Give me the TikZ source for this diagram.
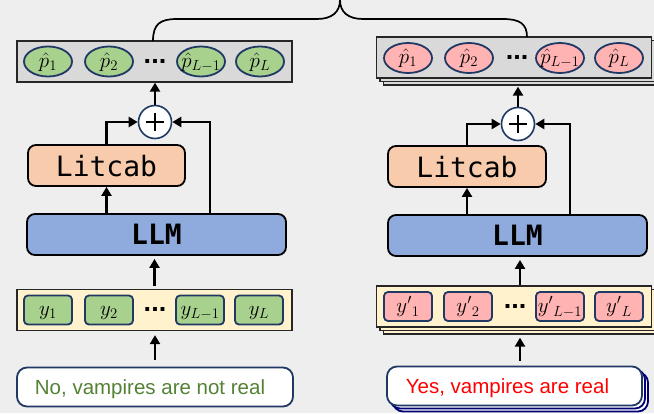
\RequirePackage{fix-cm}
\documentclass[tikz,border=0pt]{standalone}
\usepackage{fontspec}
\setmainfont{Liberation Sans}
\newfontfamily\codefont{DejaVu Sans Mono}
\newfontfamily\truefont[Color=548235]{Liberation Sans}
\newfontfamily\falsefont[Color=FF0000]{Liberation Sans}
\usetikzlibrary{arrows.meta,shapes.geometric,shadows}

\definecolor{canvas}{HTML}{EEEEEE}
\definecolor{probgray}{HTML}{D9D9D9}
\definecolor{tokcream}{HTML}{FFF2CC}
\definecolor{tokgreen}{HTML}{A9D18E}
\definecolor{tokpink}{HTML}{FFB3B3}
\definecolor{navy}{HTML}{203864}
\definecolor{calpeach}{HTML}{F8CBAD}
\definecolor{llmblue}{HTML}{8FAADC}

% label of fixed footprint, centred on the node
\newcommand{\cellmath}[1]{\makebox[0pt]{\raisebox{-5.5pt}[0pt][0pt]{$#1$}}}

\tikzset{
  strip/.style={draw=black!85, line width=1.3pt, minimum width=275pt, minimum height=41pt, inner sep=0pt},
  probstrip/.style={strip, fill=probgray},
  tokstrip/.style={strip, fill=tokcream},
  stack3/.style={
    copy shadow={shadow xshift=7pt, shadow yshift=-7pt, fill=#1, draw=black!85, line width=1.3pt},
    copy shadow={shadow xshift=3.5pt, shadow yshift=-3.5pt, fill=#1, draw=black!85, line width=1.3pt}},
  prob/.style={ellipse, draw=navy, line width=1.8pt, minimum width=48pt, minimum height=30pt, inner sep=0pt, font=\fontsize{21}{24}\selectfont},
  tok/.style={rectangle, rounded corners=4pt, draw=navy, line width=1.8pt, minimum width=48pt, minimum height=29pt, inner sep=0pt, font=\fontsize{21}{24}\selectfont},
  dotsnode/.style={inner sep=0pt, anchor=base, font=\fontsize{27}{27}\selectfont\bfseries},
  block/.style={draw=black, line width=1.8pt, rounded corners=8pt, minimum height=41pt, inner sep=0pt, text depth=0pt, font=\fontsize{28}{30}\selectfont\codefont},
  sumnode/.style={circle, draw=navy, line width=1.6pt, fill=white, minimum size=33pt, inner sep=0pt},
  answerframe/.style={draw=navy, line width=1.8pt, fill=white, rounded corners=10pt},
  answer/.style={answerframe, minimum height=39pt, inner sep=0pt, text depth=0pt},
  flow/.style={line width=2.6pt, -{Triangle[length=9pt,width=10pt]}},
  plusbar/.style={line width=2.2pt},
}

\begin{document}
\begin{tikzpicture}[x=1pt, y=-1pt]
\useasboundingbox[fill=canvas] (0,0) rectangle (654,413);

% ---------- right column, bottom sheets: stacked behind the answer box ----------
\draw[answerframe, draw=blue!45!black] (393,372.5) rectangle (648,411.5);
\draw[answerframe, draw=blue!45!black] (390,369.5) rectangle (645,408.5);

% ---------- left column: truthful answer ----------
\node[answer, minimum width=276pt, font=\truefont\fontsize{20.5}{24}\selectfont] (ansL) at (155,387) {No, vampires are not real\hspace*{10pt}};
\node[tokstrip] (tokL) at (154.5,310) {};
\node[tok, fill=tokgreen] (yL1) at (48,310) {\cellmath{y_1}};
\node[tok, fill=tokgreen] (yL2) at (109,310) {\cellmath{y_2}};
\node[dotsnode] (yLd) at (155,311.5) {...};
\node[tok, fill=tokgreen] (yL3) at (200,310) {\cellmath{y_{L-1}}};
\node[tok, fill=tokgreen] (yL4) at (259,310) {\cellmath{y_L}};

\node[block, fill=llmblue, minimum width=259pt] (llmL) at (156.5,234.5) {\bfseries LLM};
\node[block, fill=calpeach, minimum width=157pt] (calL) at (106.5,165.5) {Litcab};
\node[sumnode] (sumL) at (155,122) {};
\draw[plusbar] ([xshift=-9pt]sumL.center) -- ([xshift=9pt]sumL.center)
               ([yshift=-9pt]sumL.center) -- ([yshift=9pt]sumL.center);

\node[probstrip] (pL) at (154.5,61.5) {};
\node[prob, fill=tokgreen] (pL1) at (48,61.5) {\cellmath{\hat p_1}};
\node[prob, fill=tokgreen] (pL2) at (109,61.5) {\cellmath{\hat p_2}};
\node[dotsnode] (pLd) at (155,63) {...};
\node[prob, fill=tokgreen] (pL3) at (201,61.5) {\cellmath{\hat p_{L-1}}};
\node[prob, fill=tokgreen] (pL4) at (260,61.5) {\cellmath{\hat p_L}};

\coordinate (skipL) at (210,0);
\draw[flow, shorten <=7pt, shorten >=4pt] (ansL.north) -- (ansL.north |- tokL.south);
\draw[flow, shorten <=3pt, shorten >=3pt] (tokL.north) -- (tokL.north |- llmL.south);
\draw[flow] (llmL.north -| calL.south) -- (calL.south);
\draw[flow] (calL.north) |- (sumL.west);
\draw[flow] (llmL.north -| skipL) |- (sumL.east);
\draw[flow] (sumL.north) -- (sumL.north |- pL.south);

% ---------- right column: false answer ----------
\node[answer, minimum width=255pt, font=\falsefont\fontsize{20.5}{24}\selectfont] (ansR) at (514.5,386) {Yes, vampires are real\hspace*{14pt}};
\node[tokstrip, stack3=tokcream] (tokR) at (514,306.5) {};
\node[tok, fill=tokpink] (yR1) at (408,306.5) {\cellmath{{y'}_{1}}};
\node[tok, fill=tokpink] (yR2) at (468,306.5) {\cellmath{{y'}_{2}}};
\node[dotsnode] (yRd) at (515,308) {...};
\node[tok, fill=tokpink] (yR3) at (560,306.5) {\cellmath{{y'}_{L-1}}};
\node[tok, fill=tokpink] (yR4) at (619,306.5) {\cellmath{{y'}_{L}}};

\node[block, fill=llmblue, minimum width=259pt] (llmR) at (517.5,235.5) {\bfseries LLM};
\node[block, fill=calpeach, minimum width=158pt] (calR) at (467,166.5) {Litcab};
\node[sumnode] (sumR) at (518,124) {};
\draw[plusbar] ([xshift=-9pt]sumR.center) -- ([xshift=9pt]sumR.center)
               ([yshift=-9pt]sumR.center) -- ([yshift=9pt]sumR.center);

\node[probstrip, stack3=probgray] (pR) at (514,57.5) {};
\node[prob, fill=tokpink] (pR1) at (408,58) {\cellmath{\hat p_1}};
\node[prob, fill=tokpink] (pR2) at (469,58) {\cellmath{\hat p_2}};
\node[dotsnode] (pRd) at (517,59.5) {...};
\node[prob, fill=tokpink] (pR3) at (560,58) {\cellmath{\hat p_{L-1}}};
\node[prob, fill=tokpink] (pR4) at (619,58) {\cellmath{\hat p_L}};

\coordinate (skipR) at (570,0);
\coordinate (inR) at (520,0);
\draw[flow, shorten <=5pt, shorten >=10pt] (ansR.north -| inR) -- (tokR.south -| inR);
\draw[flow, shorten >=3pt] (tokR.north -| inR) -- (llmR.south -| inR);
\draw[flow] (llmR.north -| calR.south) -- (calR.south);
\draw[flow] (calR.north) |- (sumR.west);
\draw[flow] (llmR.north -| skipR) |- (sumR.east);
\draw[flow, shorten >=8pt] (sumR.north) -- (sumR.north |- pR.south);

% ---------- brace joining both probability strips ----------
\coordinate (braceL) at (153,41);
\coordinate (braceTip) at (340,0);
\coordinate (braceR) at (527,37);
\draw[line width=1.7pt]
  (braceL) .. controls (153,24) and (160,19) .. (177,19) -- (317,19)
  .. controls (332,19) and (340,12) .. (braceTip)
  .. controls (340,12) and (348,19) .. (363,19) -- (503,19)
  .. controls (520,19) and (527,24) .. (braceR);
\end{tikzpicture}
\end{document}
